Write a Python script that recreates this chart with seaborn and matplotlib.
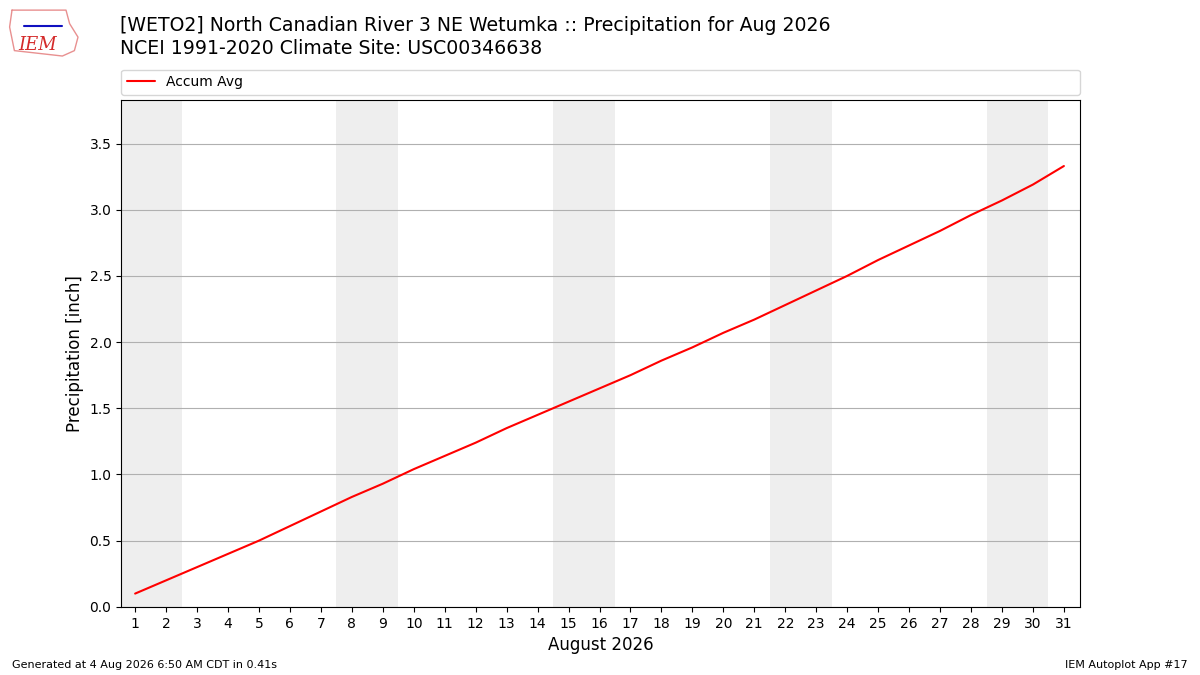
import pandas as pd
import matplotlib
matplotlib.use("Agg")
import matplotlib.pyplot as plt
import seaborn as sns

# accumulated average precip, Aug 1..31
days = list(range(1, 32))
accum_avg = [0.10, 0.20, 0.30, 0.40, 0.50, 0.61, 0.72, 0.83, 0.93, 1.04,
             1.14, 1.24, 1.35, 1.45, 1.55, 1.65, 1.75, 1.86, 1.96, 2.07,
             2.17, 2.28, 2.39, 2.50, 2.62, 2.73, 2.84, 2.96, 3.07, 3.19,
             3.33]
weekends = [(0.5, 2.5), (7.5, 9.5), (14.5, 16.5), (21.5, 23.5), (28.5, 30.5)]

title = ("[WETO2] North Canadian River 3 NE Wetumka :: Precipitation for Aug 2026\n"
         "NCEI 1991-2020 Climate Site: USC00346638")

df = pd.DataFrame({"day": days, "precip": accum_avg})

sns.set_style("ticks")
plt.rcParams['font.family'] = ['DejaVu Sans']
for k in ["text.color", "axes.labelcolor", "xtick.color", "ytick.color"]:
    plt.rcParams[k] = "black"

fig = plt.figure(figsize=(12, 6.75), dpi=100)
ax = fig.add_axes([0.101, 0.101, 0.799, 0.751])

for lo, hi in weekends:
    ax.axvspan(lo, hi, color="#eeeeee", zorder=0, lw=0)

sns.lineplot(data=df, x="day", y="precip", color="red", lw=1.5,
             label="Accum Avg", ax=ax, zorder=3)

ax.set_xlim(0.55, 31.52)
ax.set_ylim(0, max(accum_avg) * 1.15)
ax.set_xticks(days)
ax.set_yticks([0.0, 0.5, 1.0, 1.5, 2.0, 2.5, 3.0, 3.5])
ax.yaxis.grid(True, color="#b0b0b0", lw=0.8)
ax.set_axisbelow(True)
ax.tick_params(labelsize=10)
ax.set_xlabel("August 2026", fontsize=12)
ax.set_ylabel("Precipitation [inch]", fontsize=12)
for s in ax.spines.values():
    s.set_visible(True)
    s.set_color("black")

ax.legend(loc="lower left", bbox_to_anchor=(0, 1.01, 1, 0.05), mode="expand",
          ncol=1, fontsize=10, frameon=True, borderaxespad=0)

fig.text(0.1, 0.976, title, fontsize=13.6, va="top", ha="left", linespacing=1.25)

# logo stand-in: rough state outline plus IEM text
outline_x = [0.010, 0.055, 0.058, 0.065, 0.062, 0.052, 0.012, 0.008, 0.010]
outline_y = [0.985, 0.985, 0.965, 0.945, 0.925, 0.917, 0.925, 0.960, 0.985]
fig.add_artist(plt.Line2D(outline_x, outline_y, color="#e89090", lw=1,
                          transform=fig.transFigure))
fig.add_artist(plt.Line2D([0.020, 0.052], [0.962, 0.962], color="#1010c0", lw=1.5,
                          transform=fig.transFigure))
fig.text(0.031, 0.934, "IEM", fontsize=13, color="#d42a2a", family="serif",
         style="italic", ha="center", va="center")

fig.text(0.01, 0.01, "Generated at 4 Aug 2026 6:50 AM CDT in 0.41s", fontsize=8)
fig.text(0.99, 0.01, "IEM Autoplot App #17", fontsize=8, ha="right")

fig.savefig("out.png", dpi=100)
